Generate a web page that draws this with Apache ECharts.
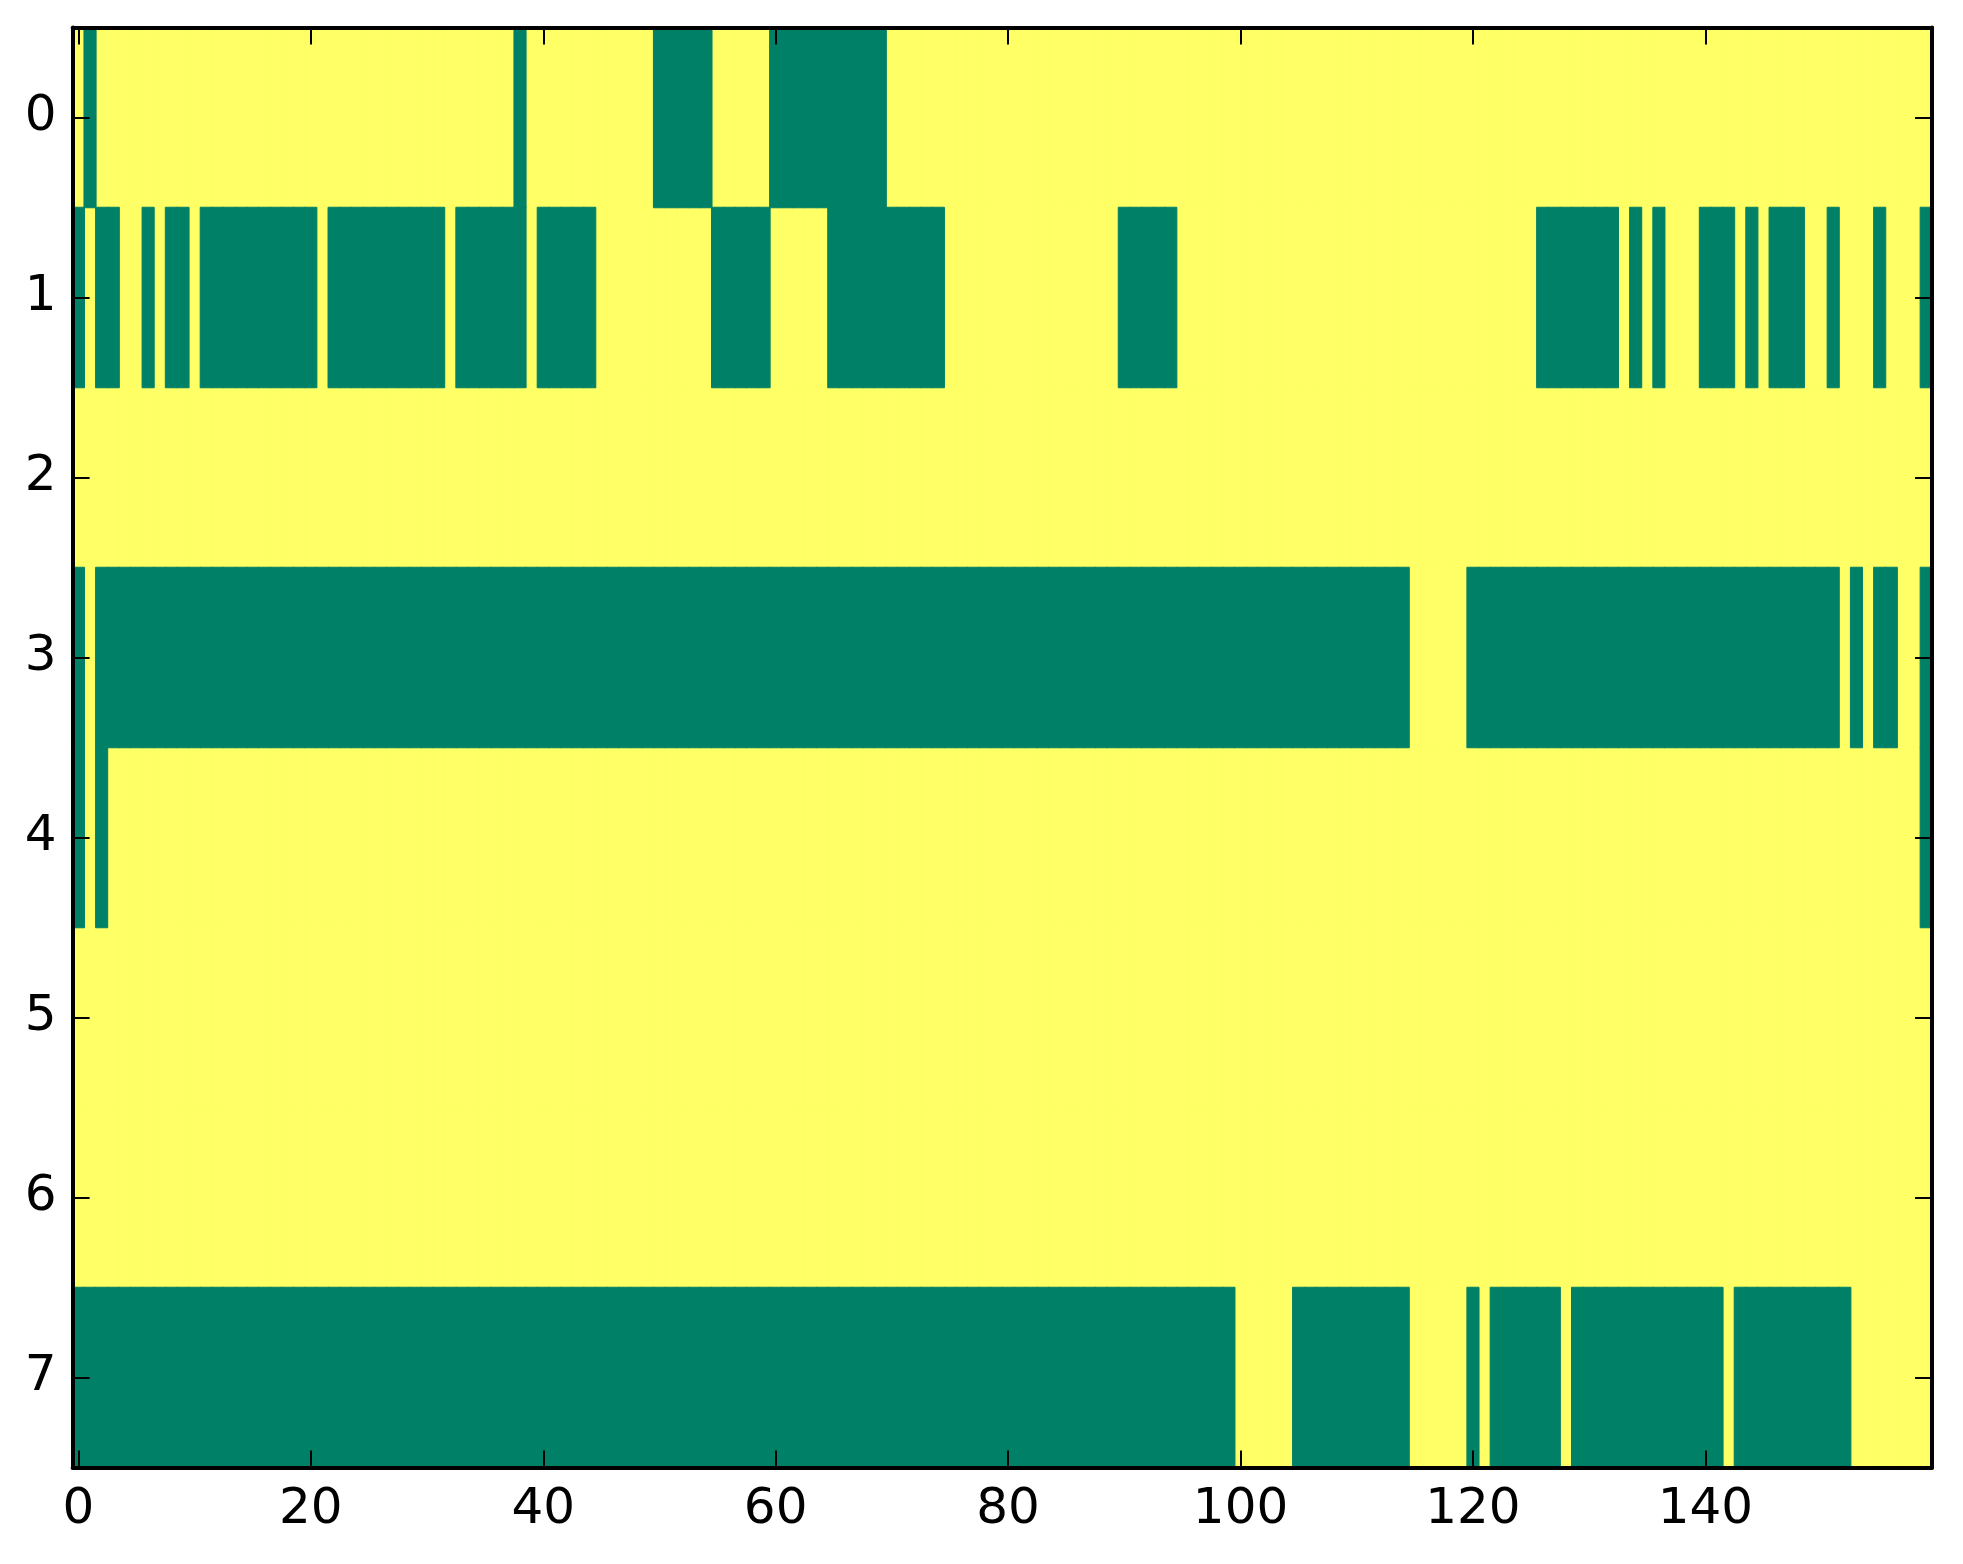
<!DOCTYPE html>
<html>
<head>
<meta charset="utf-8">
<script src="https://cdn.jsdelivr.net/npm/echarts@6/dist/echarts.min.js"></script>
<style>
  html, body { margin: 0; padding: 0; background: #fff; }
  #chart { width: 1963px; height: 1564px; }
</style>
</head>
<body>
<div id="chart"></div>
<script>
// Column and row categories of the image.
const columns = Array.from({ length: 160 }, (_, i) => String(i));
const rows = ['0', '1', '2', '3', '4', '5', '6', '7'];

// Runs of low-valued (green) cells per row, inclusive [start, end]. Everything else is 1.
const row0Low = [[1, 1], [38, 38], [50, 54], [60, 69]];
const row1Low = [[0, 0], [2, 3], [6, 6], [8, 9], [11, 20], [22, 31], [33, 38], [40, 44],
  [55, 59], [65, 74], [90, 94], [126, 132], [134, 134], [136, 136], [140, 142],
  [144, 144], [146, 148], [151, 151], [155, 155], [159, 159]];
const row2Low = [];
const row3Low = [[0, 0], [2, 114], [120, 151], [153, 153], [155, 156], [159, 159]];
const row4Low = [[0, 0], [2, 2], [159, 159]];
const row5Low = [];
const row6Low = [];
const row7Low = [[0, 99], [105, 114], [120, 120], [122, 127], [129, 141], [143, 152]];

const lowRuns = [row0Low, row1Low, row2Low, row3Low, row4Low, row5Low, row6Low, row7Low];

// Colours of the 'summer' colormap at 0 and 1.
const lowColor = '#008066';
const highColor = '#ffff66';

// Split cells [col, row, value] by value.
const lowCells = [];
const highCells = [];
lowRuns.forEach((runs, r) => {
  for (let c = 0; c < columns.length; c++) {
    const low = runs.some(([a, b]) => c >= a && c <= b);
    (low ? lowCells : highCells).push([c, r, low ? 0 : 1]);
  }
});

const font = 'DejaVu Sans';
const everyTwenty = (index) => index % 20 === 0;

const xBase = {
  type: 'category',
  data: columns,
  z: 10,
  axisLine: { show: true, lineStyle: { color: '#000', width: 4 } },
  axisTick: { show: true, inside: true, length: 17, interval: everyTwenty, alignWithLabel: true,
    lineStyle: { color: '#000', width: 2 } },
  splitLine: { show: false }
};
const yBase = {
  type: 'category',
  data: rows,
  inverse: true,
  z: 10,
  axisLine: { show: true, lineStyle: { color: '#000', width: 4 } },
  axisTick: { show: true, inside: true, length: 17, alignWithLabel: true,
    lineStyle: { color: '#000', width: 2 } },
  splitLine: { show: false }
};

const cellSeries = (data, color) => ({
  type: 'heatmap',
  xAxisIndex: 0,
  yAxisIndex: 0,
  data: data,
  progressive: 0,
  itemStyle: { color: color, borderColor: color, borderWidth: 1 },
  emphasis: { disabled: true }
});

const chart = echarts.init(document.getElementById('chart'), null, { renderer: 'canvas' });
chart.setOption({
  animation: false,
  backgroundColor: '#fff',
  grid: { left: 72.6, top: 27.5, width: 1859.4, height: 1440 },
  xAxis: [
    Object.assign({}, xBase, {
      position: 'bottom',
      axisLabel: { interval: everyTwenty, color: '#000', fontFamily: font, fontSize: 50, margin: 18 }
    }),
    Object.assign({}, xBase, { position: 'top', axisLabel: { show: false } })
  ],
  yAxis: [
    Object.assign({}, yBase, {
      position: 'left',
      axisLabel: { color: '#000', fontFamily: font, fontSize: 50, margin: 16 }
    }),
    Object.assign({}, yBase, { position: 'right', axisLabel: { show: false } })
  ],
  series: [
    cellSeries(highCells, highColor),
    cellSeries(lowCells, lowColor)
  ]
});
</script>
</body>
</html>
